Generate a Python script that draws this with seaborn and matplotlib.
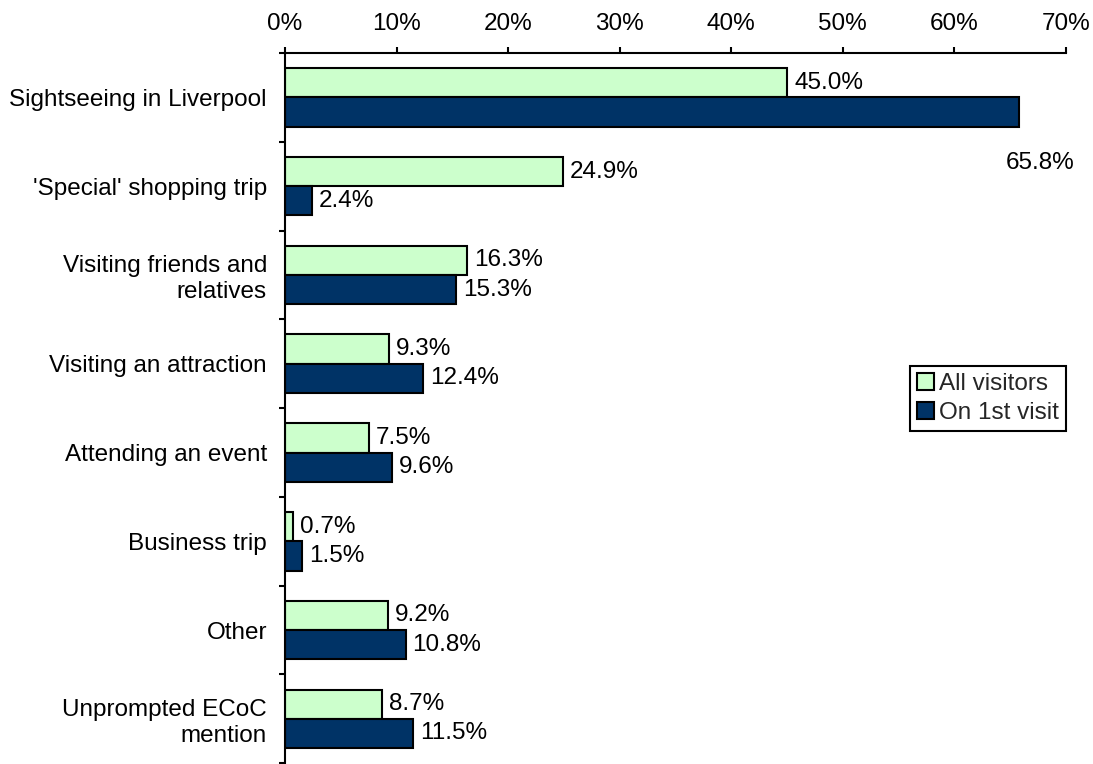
import matplotlib
matplotlib.use("Agg")
import matplotlib.pyplot as plt
import seaborn as sns
import pandas as pd
import numpy as np
from matplotlib.ticker import FuncFormatter, FixedLocator

categories = [
    "Sightseeing in Liverpool",
    "'Special' shopping trip",
    "Visiting friends and\nrelatives",
    "Visiting an attraction",
    "Attending an event",
    "Business trip",
    "Other",
    "Unprompted ECoC\nmention",
]
all_visitors = [45.0, 24.9, 16.3, 9.3, 7.5, 0.7, 9.2, 8.7]
first_visit = [65.8, 2.4, 15.3, 12.4, 9.6, 1.5, 10.8, 11.5]
series_names = ["All visitors", "On 1st visit"]
colors = ["#CCFFCC", "#003366"]

df = pd.DataFrame({
    "purpose": categories * 2,
    "pct": all_visitors + first_visit,
    "group": [series_names[0]] * len(categories) + [series_names[1]] * len(categories),
})

sns.set_theme(style="white")
plt.rcParams["font.family"] = ["Liberation Sans", "DejaVu Sans"]
FS = 17.5

fig = plt.figure(figsize=(10.93, 7.64), dpi=100)
ax = fig.add_axes([0.2608, 0.001, 0.7145, 0.9296])

sns.barplot(data=df, y="purpose", x="pct", hue="group", palette=colors,
            orient="h", width=0.66, gap=0, edgecolor="black", linewidth=1.5,
            ax=ax, errorbar=None, saturation=1)

ax.set_xlim(0, 70)
ax.set_ylim(len(categories) - 0.5, -0.5)
ax.xaxis.tick_top()
ax.xaxis.set_major_locator(FixedLocator(np.arange(0, 71, 10)))
ax.xaxis.set_major_formatter(FuncFormatter(lambda v, p: f"{v:.0f}%"))
ax.tick_params(axis="x", which="major", direction="out", length=4, width=1.5,
               labelsize=FS, pad=9, colors="black", top=True, bottom=False)
ax.set_xlabel("")
ax.set_ylabel("")

# category boundaries as outward ticks on the left spine
ax.yaxis.set_minor_locator(FixedLocator(np.arange(-0.5, len(categories), 1.0)))
ax.tick_params(axis="y", which="major", length=0, labelsize=FS, pad=13,
               colors="black")
ax.tick_params(axis="y", which="minor", length=4, width=1.5, direction="out",
               left=True, color="black")
for lbl in ax.get_yticklabels():
    lbl.set_horizontalalignment("right")
    lbl.set_multialignment("right")

for side in ["right", "bottom"]:
    ax.spines[side].set_visible(False)
for side in ["left", "top"]:
    ax.spines[side].set_visible(True)
    ax.spines[side].set_color("black")
    ax.spines[side].set_linewidth(1.5)
ax.grid(False)

# value labels
for ci, cont in enumerate(ax.containers):
    vals = all_visitors if ci == 0 else first_visit
    labels = [f"{v:.1f}%" for v in vals]
    if ci == 1:
        labels[0] = ""
    ax.bar_label(cont, labels=labels, padding=5, fontsize=FS, color="black")
ax.text(67.7, 0.74, f"{first_visit[0]:.1f}%", ha="center", va="center",
        fontsize=FS, color="black", clip_on=False)

leg = ax.legend(loc="upper right", bbox_to_anchor=(1.0, 0.56),
                borderaxespad=0, fontsize=FS, frameon=True, fancybox=False,
                framealpha=1, edgecolor="black", handlelength=0.7,
                handleheight=0.7, handletextpad=0.2, labelspacing=0.3,
                borderpad=0.3, title=None)
leg.get_frame().set_linewidth(1.5)

fig.savefig("out.png", dpi=100)
